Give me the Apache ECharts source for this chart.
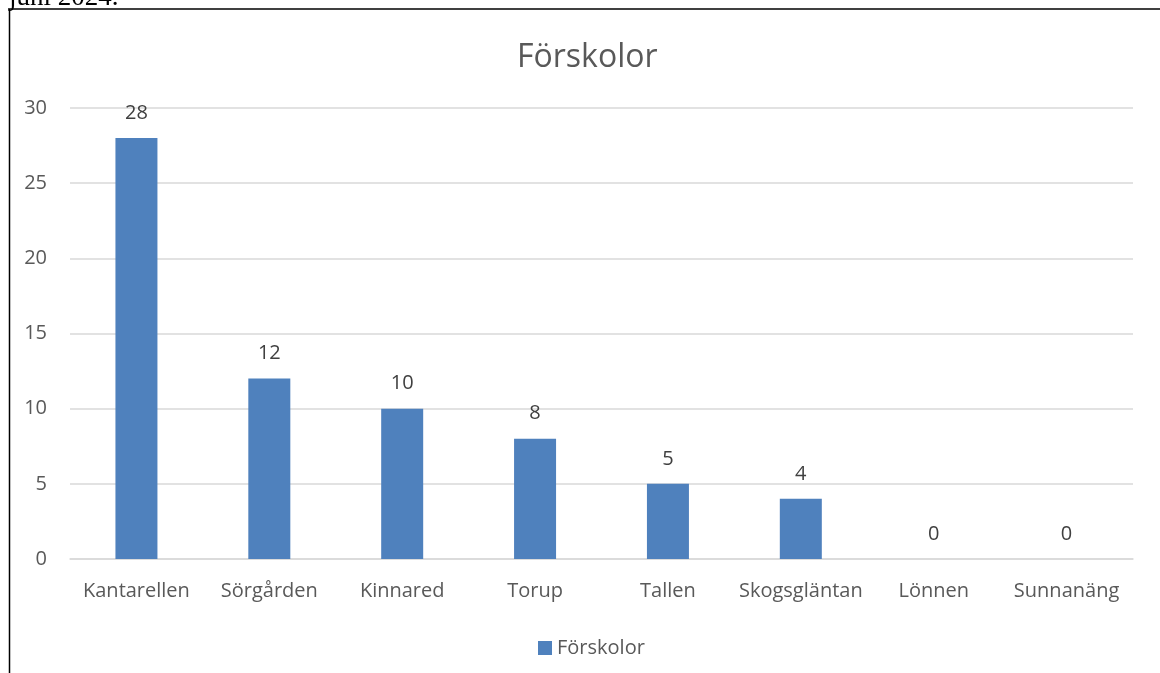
<!DOCTYPE html>
<html><head><meta charset="utf-8">
<script src="https://cdn.jsdelivr.net/npm/echarts@6/dist/echarts.min.js"></script>
<style>html,body{margin:0;padding:0;background:#fff;}#c{width:1160px;height:673px;}</style>
</head><body><div id="c"></div>
<script>
const categories = ['Kantarellen','Sörgården','Kinnared','Torup','Tallen','Skogsgläntan','Lönnen','Sunnanäng'];
const values = [28,12,10,8,5,4,0,0];
const seriesName = 'Förskolor';
const titleText = 'Förskolor';
const captionText = 'juni 2024.';

const FONT = '"Open Sans", "Noto Sans", sans-serif';
const chart = echarts.init(document.getElementById('c'));
chart.setOption({
  animation: false,
  title: { text: titleText, left: 512, top: 37, textStyle: { fontFamily: FONT, fontSize: 32, fontWeight: 'normal', color: '#595959' } },
  legend: { bottom: 10, left: 533, itemWidth: 14, itemHeight: 14, itemGap: 5, icon: 'rect', textStyle: { fontFamily: FONT, fontSize: 20, color: '#595959' }, data: [seriesName] },
  grid: { left: 70, right: 27, top: 108, bottom: 114, containLabel: false },
  xAxis: { type: 'category', data: categories, axisTick: { show: false }, axisLine: { lineStyle: { color: '#d9d9d9', width: 1.5 } },
    axisLabel: { fontFamily: FONT, fontSize: 20, color: '#595959', margin: 22, interval: 0 } },
  yAxis: { type: 'value', min: 0, max: 30, interval: 5, axisLine: { show: false }, axisTick: { show: false },
    splitLine: { lineStyle: { color: '#d9d9d9', width: 1.5 } },
    axisLabel: { fontFamily: FONT, fontSize: 20, color: '#595959', margin: 23 } },
  series: [{ name: seriesName, type: 'bar', data: values, barWidth: 42, itemStyle: { color: '#4f81bd' },
    label: { show: true, position: 'top', distance: 15, fontFamily: FONT, fontSize: 20, color: '#404040' } }],
  graphic: [
    { type: 'line', shape: { x1: 9, y1: 9, x2: 1160, y2: 9 }, style: { stroke: '#000', lineWidth: 1.5 } },
    { type: 'line', shape: { x1: 9.5, y1: 9, x2: 9.5, y2: 673 }, style: { stroke: '#000', lineWidth: 1.5 } },
    { type: 'text', left: 9, top: -16, style: { text: captionText, font: '27px "Liberation Serif", serif', fill: '#000' } }
  ]
});
</script></body></html>
